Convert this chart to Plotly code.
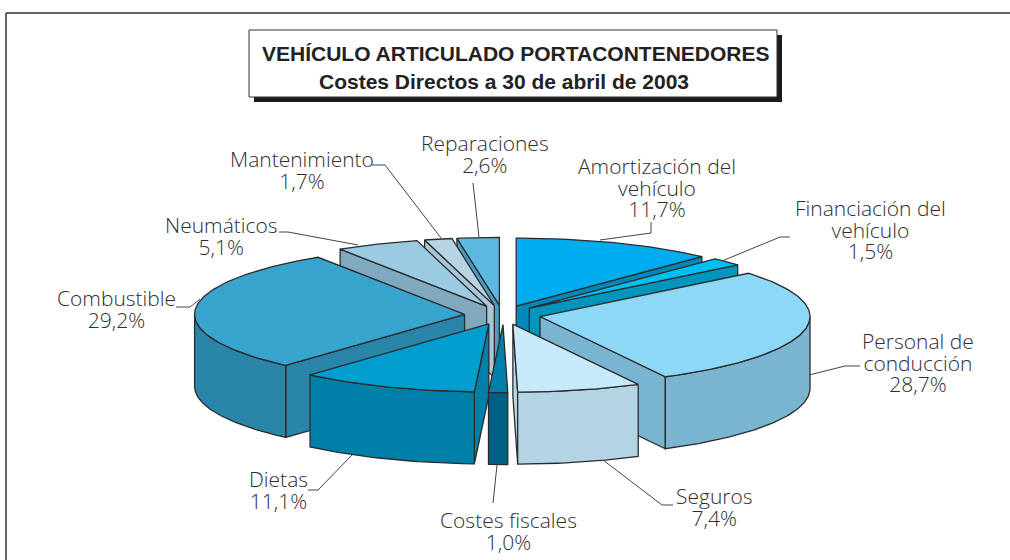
import math
import numpy as np
import plotly.graph_objects as go

# ---- data ----
categories = [["Amortización del", "vehículo"], ["Financiación del", "vehículo"], ["Personal de", "conducción"],
              ["Seguros"], ["Costes fiscales"], ["Dietas"], ["Combustible"], ["Neumáticos"], ["Mantenimiento"], ["Reparaciones"]]
values = [11.7, 1.5, 28.7, 7.4, 1.0, 11.1, 29.2, 5.1, 1.7, 2.6]
value_labels = ["11,7%", "1,5%", "28,7%", "7,4%", "1,0%", "11,1%", "29,2%", "5,1%", "1,7%", "2,6%"]
title_lines = ["VEHÍCULO ARTICULADO PORTACONTENEDORES", "Costes Directos a 30 de abril de 2003"]

# ---- styles ----
top_colors = ["#00ADEF", "#00BFF3", "#8DD7F7", "#C7EAFB", "#0080A8", "#009DCF", "#38A5CE", "#9ACBE3", "#B8D3E3", "#5CB8DF"]
side_colors = ["#0088B8", "#0095BD", "#79B4D1", "#B3D4E5", "#005F84", "#0080A8", "#2A86A8", "#7FA9BE", "#A8C6D8", "#4A9CC0"]
EDGE = "#2b2b2b"
TEXT = "#2e2e2e"

# ---- projection of the pie ----
CX, CY, RX, RY, DEPTH, EXPLODE = 502.5, 315, 270, 68, 72, 38


def warp(t):
    return t + float(np.interp(t, [0, 42, 47.5, 100, 150, 177.5, 181, 222, 330, 360],
                               [0, 1.3, 3, 2, 1.5, 1.5, 2, 0.4, 1, 0]))


def rim(ax, ay, t):
    r = math.radians(warp(t))
    return ax + RX * math.sin(r), ay - RY * math.cos(r)


def faces_viewer(t, sign):
    return math.cos(math.radians(warp(t) + sign * 90)) < 0


fig = go.Figure()


def poly(pts, fill):
    fig.add_trace(go.Scatter(x=[p[0] for p in pts] + [pts[0][0]], y=[p[1] for p in pts] + [pts[0][1]],
                             mode="lines", fill="toself", fillcolor=fill,
                             line=dict(color=EDGE, width=1.3), hoverinfo="skip", showlegend=False))


total = sum(values)
slices = []
cum = 0.0
for i, v in enumerate(values):
    a = cum / total * 360
    cum += v
    b = cum / total * 360
    slices.append((i, a, b, (a + b) / 2))

for i, a, b, m in sorted(slices, key=lambda s: -math.cos(math.radians(s[3]))):
    r = math.radians(m)
    ax = CX + EXPLODE * math.sin(r)
    ay = CY - EXPLODE * RY / RX * math.cos(r)
    n = max(3, int(b - a) + 2)
    ts = [a + (b - a) * k / n for k in range(n + 1)]
    down = lambda p: (p[0], p[1] + DEPTH)
    for t, sign in ((a, -1), (b, 1)):
        if faces_viewer(t, sign):
            p = rim(ax, ay, t)
            poly([(ax, ay), p, down(p), down((ax, ay))], side_colors[i])
    lo, hi = max(a, 88), min(b, 270)
    if hi > lo:
        arc = [rim(ax, ay, lo + (hi - lo) * k / n) for k in range(n + 1)]
        poly(arc + [down(p) for p in reversed(arc)], side_colors[i])
    poly([(ax, ay)] + [rim(ax, ay, t) for t in ts], top_colors[i])

# ---- leader lines ----
leaders = [
    [(651, 222), (651, 233), (600, 240)],
    [(790, 237), (780, 237), (722, 261)],
    [(860, 366), (845, 366), (809, 375)],
    [(673, 505), (662, 505), (603, 460)],
    [(493, 503), (497, 465)],
    [(308, 490), (318, 490), (352, 455)],
    [(176, 307), (190, 307), (200, 299)],
    [(279, 232), (288, 232), (358, 245)],
    [(372, 165), (385, 165), (441, 238)],
    [(473, 183), (479, 237)],
]
for seg in leaders:
    fig.add_trace(go.Scatter(x=[p[0] for p in seg], y=[p[1] for p in seg], mode="lines",
                             line=dict(color="#444444", width=1), hoverinfo="skip", showlegend=False))

# ---- text ----
FONT_SIZE = 21
label_pos = [(657, 166), (870, 208), (918, 341), (714, 496), (508, 520),
             (278, 479), (116, 298), (221, 225), (302, 159), (485, 143)]
for cat, val, (x, y) in zip(categories, value_labels, label_pos):
    lines = cat + [val]
    # plotly centres the block using its 1.3em line height; first line stays at y after tightening
    fig.add_annotation(x=x, y=y + (len(lines) - 1) * 1.3 * FONT_SIZE / 2, text="<br>".join(lines),
                       showarrow=False, align="center",
                       font=dict(family="Open Sans", size=FONT_SIZE, color=TEXT, weight=300))

fig.add_annotation(x=516, y=53, text=title_lines[0], showarrow=False,
                   font=dict(family="Liberation Sans", size=21, color="#222222", weight="bold"))
fig.add_annotation(x=504, y=81, text=title_lines[1], showarrow=False,
                   font=dict(family="Liberation Sans", size=21, color="#222222", weight="bold"))

shapes = [
    dict(type="line", x0=6, y0=13, x1=1010, y1=13, line=dict(color="#333333", width=1.5)),
    dict(type="line", x0=6, y0=13, x1=6, y1=560, line=dict(color="#333333", width=1.5)),
    dict(type="rect", x0=254, y0=35, x1=782, y1=102, fillcolor="#1e1a1a", line=dict(width=0)),
    dict(type="rect", x0=249, y0=30, x1=777, y1=97, fillcolor="white", line=dict(color="#333333", width=1)),
]

fig.update_layout(
    width=1010, height=560, margin=dict(l=0, r=0, t=0, b=0),
    paper_bgcolor="white", plot_bgcolor="white", showlegend=False, shapes=shapes,
    xaxis=dict(range=[0, 1010], visible=False, fixedrange=True),
    yaxis=dict(range=[560, 0], visible=False, fixedrange=True),
)
tighten = """
document.body.style.margin='0';
document.querySelectorAll('.annotation-text tspan.line').forEach(function(t){
  var d=parseFloat(t.getAttribute('dy')||'0');
  t.setAttribute('dy',(d/1.3*1.024)+'em');
});
"""
fig.write_html("out.html", post_script=tighten, config={"displayModeBar": False})
